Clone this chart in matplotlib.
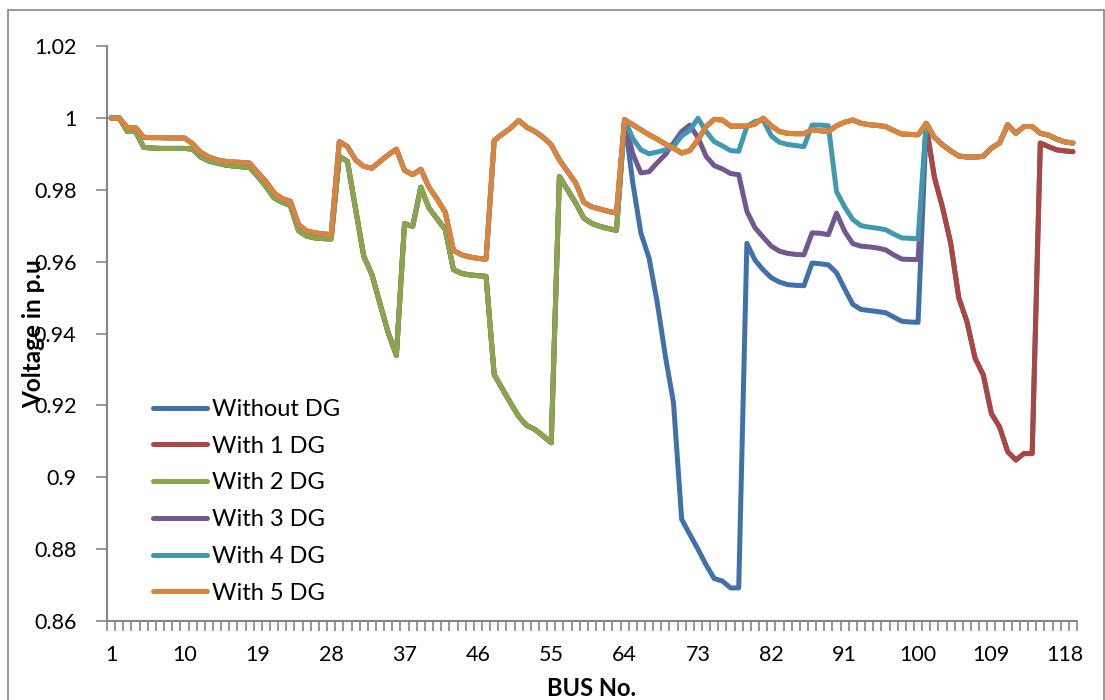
import matplotlib
matplotlib.use("Agg")
import matplotlib.pyplot as plt
from matplotlib.patches import Rectangle

plt.rcParams['font.family'] = ['Lato', 'DejaVu Sans']

# bus numbers of the 118-bus radial feeder data (119 rows)
buses = list(range(1, 120))

# voltage (p.u.) with 5 DG, every bus
with_5dg = [
    1.0000, 1.0000, 0.9973, 0.9973, 0.9946, 0.9945, 0.9945, 0.9944, 0.9944, 0.9944,
    0.9928, 0.9904, 0.9891, 0.9883, 0.9879, 0.9877, 0.9876, 0.9874, 0.9848, 0.9823,
    0.9791, 0.9775, 0.9768, 0.9703, 0.9685, 0.9680, 0.9677, 0.9675, 0.9934, 0.9920,
    0.9883, 0.9865, 0.9860, 0.9879, 0.9897, 0.9913, 0.9854, 0.9842, 0.9857, 0.9807,
    0.9774, 0.9737, 0.9631, 0.9619, 0.9613, 0.9609, 0.9607, 0.9937, 0.9955, 0.9971,
    0.9993, 0.9974, 0.9962, 0.9946, 0.9925, 0.9883, 0.9851, 0.9819, 0.9765, 0.9752,
    0.9746, 0.9740, 0.9735, 0.9995, 0.9981, 0.9967, 0.9953, 0.9941, 0.9927, 0.9916,
    0.9902, 0.9909, 0.9939, 0.9976, 0.9996, 0.9994, 0.9977, 0.9977, 0.9977, 0.9983,
    0.9999, 0.9978, 0.9962, 0.9957, 0.9956, 0.9956, 0.9967, 0.9964, 0.9962, 0.9978,
    0.9988, 0.9994, 0.9985, 0.9981, 0.9979, 0.9976, 0.9965, 0.9955, 0.9954, 0.9953,
    0.9985, 0.9946, 0.9925, 0.9908, 0.9894, 0.9891, 0.9891, 0.9893, 0.9916, 0.9930,
    0.9981, 0.9957, 0.9976, 0.9976, 0.9957, 0.9952, 0.9941, 0.9933, 0.9930,
]

# buses 1-63 without DG / with 1 or 2 DG
base_1_63 = [
    1.0000, 1.0000, 0.9962, 0.9962, 0.9918, 0.9916, 0.9915, 0.9915, 0.9915, 0.9915,
    0.9913, 0.9891, 0.9880, 0.9874, 0.9869, 0.9866, 0.9864, 0.9862, 0.9837, 0.9809,
    0.9777, 0.9765, 0.9756, 0.9686, 0.9671, 0.9666, 0.9664, 0.9663, 0.9893, 0.9879,
    0.9746, 0.9615, 0.9564, 0.9482, 0.9402, 0.9339, 0.9706, 0.9698, 0.9807, 0.9749,
    0.9719, 0.9689, 0.9578, 0.9567, 0.9563, 0.9561, 0.9559, 0.9286, 0.9246, 0.9207,
    0.9169, 0.9144, 0.9133, 0.9115, 0.9096, 0.9837, 0.9800, 0.9763, 0.9721, 0.9706,
    0.9698, 0.9692, 0.9687,
]

# buses 64-100 without DG
no_dg_64_100 = [
    0.9995, 0.9820, 0.9679, 0.9610, 0.9487, 0.9337, 0.9207, 0.8883, 0.8841, 0.8800,
    0.8756, 0.8718, 0.8711, 0.8692, 0.8692, 0.9651, 0.9604, 0.9577, 0.9555, 0.9543,
    0.9536, 0.9534, 0.9533, 0.9596, 0.9594, 0.9591, 0.9569, 0.9524, 0.9481, 0.9467,
    0.9464, 0.9461, 0.9458, 0.9446, 0.9434, 0.9432, 0.9431,
]

# buses 64-100 with 3 DG
dg3_64_100 = [
    0.9995, 0.9900, 0.9847, 0.9850, 0.9875, 0.9898, 0.9930, 0.9962, 0.9980, 0.9945,
    0.9893, 0.9867, 0.9858, 0.9845, 0.9842, 0.9740, 0.9694, 0.9668, 0.9643, 0.9629,
    0.9623, 0.9620, 0.9619, 0.9680, 0.9679, 0.9675, 0.9735, 0.9684, 0.9650, 0.9643,
    0.9641, 0.9638, 0.9633, 0.9619, 0.9607, 0.9606, 0.9606,
]

# buses 64-100 with 4 DG
dg4_64_100 = [
    0.9995, 0.9943, 0.9911, 0.9900, 0.9905, 0.9911, 0.9920, 0.9950, 0.9965, 0.9999,
    0.9962, 0.9934, 0.9922, 0.9909, 0.9907, 0.9976, 0.9990, 0.9994, 0.9950, 0.9932,
    0.9926, 0.9923, 0.9920, 0.9980, 0.9980, 0.9978, 0.9795, 0.9752, 0.9717, 0.9700,
    0.9696, 0.9693, 0.9689, 0.9677, 0.9666, 0.9665, 0.9663,
]

# buses 101-119 without DG / with 1 DG
base_101_119 = [
    0.9978, 0.9835, 0.9751, 0.9652, 0.9499, 0.9433, 0.9331, 0.9285, 0.9177, 0.9140,
    0.9071, 0.9048, 0.9066, 0.9066, 0.9930, 0.9920, 0.9911, 0.9908, 0.9906,
]

without_dg = base_1_63 + no_dg_64_100 + base_101_119
with_1dg = base_1_63 + with_5dg[63:100] + base_101_119
with_2dg = base_1_63 + with_5dg[63:]
with_3dg = with_5dg[:63] + dg3_64_100 + with_5dg[100:]
with_4dg = with_5dg[:63] + dg4_64_100 + with_5dg[100:]

series = [
    ('Without DG', without_dg, '#4271AA'),
    ('With 1 DG', with_1dg, '#AA4643'),
    ('With 2 DG', with_2dg, '#89A54E'),
    ('With 3 DG', with_3dg, '#71588F'),
    ('With 4 DG', with_4dg, '#4198AF'),
    ('With 5 DG', with_5dg, '#DB843D'),
]

W, H = 1105, 700
fig = plt.figure(figsize=(W / 100, H / 100), dpi=100)
ax = fig.add_axes([107 / W, 1 - 621 / H, 970 / W, 575 / H])

for name, vals, col in series:
    ax.plot(buses, vals, color=col, lw=3.6, label=name,
            solid_joinstyle='round', solid_capstyle='round')

grey = '#868686'
ax.set_xlim(0.5, 119.5)
ax.set_ylim(0.86, 1.02)
yt = [0.86, 0.88, 0.90, 0.92, 0.94, 0.96, 0.98, 1.00, 1.02]
ax.set_yticks(yt)
ax.set_yticklabels(['{:g}'.format(v) for v in yt])

# category labels every 9 buses, tick marks between categories
ax.set_xticks(list(range(1, 119, 9)))
ax.set_xticks([b - 0.5 for b in buses] + [119.5], minor=True)
ax.tick_params(axis='x', which='major', length=0, pad=17.5, labelsize=15.5)
ax.tick_params(axis='x', which='minor', length=7, width=1.2, color=grey, direction='out')
ax.tick_params(axis='y', length=8, width=1.2, color=grey, pad=14, labelsize=15.5)

for s in ['top', 'right']:
    ax.spines[s].set_visible(False)
for s in ['left', 'bottom']:
    ax.spines[s].set_color(grey)
    ax.spines[s].set_linewidth(1.5)

ax.set_xlabel('BUS No.', fontsize=17, fontweight='bold')
ax.xaxis.set_label_coords(0.5, -0.097)
ax.set_ylabel('Voltage in p.u', fontsize=17.5, fontweight='bold')
ax.yaxis.set_label_coords(-0.064, 0.5)

ax.legend(loc='upper left', bbox_to_anchor=(153 / W, 1 - 399 / H),
          bbox_transform=fig.transFigure, frameon=False, fontsize=17,
          handlelength=2.3, handletextpad=0.22, labelspacing=0.665,
          borderpad=0, borderaxespad=0)

# chart area border
fig.patches.append(Rectangle((8 / W, -0.05), 1096 / W, 1 - 10 / H + 0.05,
                             transform=fig.transFigure, fill=False,
                             edgecolor=grey, lw=1.2))

fig.savefig('out.png', dpi=100)
